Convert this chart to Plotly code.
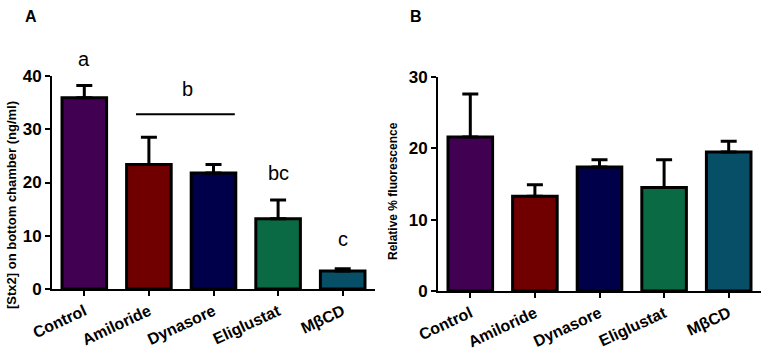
import plotly.graph_objects as go

categories = ["Control", "Amiloride", "Dynasore", "Eliglustat", "MβCD"]
colors = ["#420052", "#700000", "#00004A", "#0A6A44", "#074F66"]

stx2_mean = [35.9, 23.4, 21.8, 13.2, 3.4]
stx2_err = [2.3, 5.1, 1.6, 3.5, 0.4]

fluor_mean = [21.6, 13.3, 17.4, 14.5, 19.5]
fluor_err = [6.0, 1.6, 1.0, 3.9, 1.5]

sig_labels = ["a", "b", "bc", "c"]
sig_x = [0, 1.6, 3, 4]
sig_y = [43.2, 37.6, 21.8, 9.3]

W, H = 765, 353
FONT = "Liberation Sans, Arial, sans-serif"
YMAX_A = 40

fig = go.Figure()

fig.add_trace(go.Bar(
    x=categories, y=stx2_mean, width=0.69,
    marker=dict(color=colors, line=dict(color="black", width=3)),
    error_y=dict(type="data", symmetric=False, array=stx2_err,
                 arrayminus=[0]*5, color="black", thickness=3, width=8),
    xaxis="x", yaxis="y", showlegend=False,
))
fig.add_trace(go.Bar(
    x=categories, y=fluor_mean, width=0.69,
    marker=dict(color=colors, line=dict(color="black", width=3)),
    error_y=dict(type="data", symmetric=False, array=fluor_err,
                 arrayminus=[0]*5, color="black", thickness=3, width=8),
    xaxis="x2", yaxis="y2", showlegend=False,
))

axis_common = dict(showline=True, linecolor="black", linewidth=2,
                   ticks="outside", ticklen=5, tickwidth=2, tickcolor="black",
                   showgrid=False, zeroline=False, automargin=False)

xtickfont = dict(size=16, family=FONT, weight="bold")
ytickfont = dict(size=17, family=FONT, weight="bold")

fig.update_layout(
    width=W, height=H,
    margin=dict(l=0, r=0, t=0, b=0),
    paper_bgcolor="white", plot_bgcolor="white",
    font=dict(family=FONT, color="black"),
    bargap=0.3,
    xaxis=dict(domain=[52/W, 375/W], anchor="y", range=[-0.5, 4.5],
               tickangle=-25, tickfont=xtickfont, **axis_common),
    yaxis=dict(domain=[(H-289)/H, (H-76)/H], anchor="x", range=[0, YMAX_A],
               tickvals=[0, 10, 20, 30, 40], tickfont=ytickfont, **axis_common),
    xaxis2=dict(domain=[438/W, 761/W], anchor="y2", range=[-0.5, 4.5],
                tickangle=-25, tickfont=xtickfont, **axis_common),
    yaxis2=dict(domain=[(H-291)/H, (H-77)/H], anchor="x2", range=[0, 30],
                tickvals=[0, 10, 20, 30], tickfont=ytickfont, **axis_common),
)

# significance line for group b
fig.add_shape(type="line", xref="x", yref="y", x0=0.8, x1=2.33, y0=32.8, y1=32.8,
              line=dict(color="black", width=2))

for lab, xv, yv in zip(sig_labels, sig_x, sig_y):
    fig.add_annotation(x=xv, y=yv / YMAX_A, xref="x", yref="y domain", text=lab,
                       showarrow=False, xanchor="center", yanchor="middle",
                       font=dict(size=20, family=FONT, color="black"))

# axis titles
fig.add_annotation(x=12/W, y=(H-205)/H, xref="paper", yref="paper",
                   text="[Stx2] on bottom chamber (ng/ml)", textangle=-90,
                   xanchor="center", yanchor="middle",
                   showarrow=False, font=dict(size=13, family=FONT, weight="bold"))
fig.add_annotation(x=393/W, y=(H-191)/H, xref="paper", yref="paper",
                   text="Relative % fluorescence", textangle=-90,
                   xanchor="center", yanchor="middle",
                   showarrow=False, font=dict(size=12, family=FONT, weight="bold"))

# panel labels
fig.add_annotation(x=31/W, y=(H-17)/H, xref="paper", yref="paper", text="A",
                   xanchor="center", yanchor="middle",
                   showarrow=False, font=dict(size=16, family=FONT, weight="bold"))
fig.add_annotation(x=416/W, y=(H-17)/H, xref="paper", yref="paper", text="B",
                   xanchor="center", yanchor="middle",
                   showarrow=False, font=dict(size=16, family=FONT, weight="bold"))

fig.write_html("out.html", config={"displayModeBar": False},
               post_script="document.body.style.margin='0';document.body.style.overflow='hidden';")
